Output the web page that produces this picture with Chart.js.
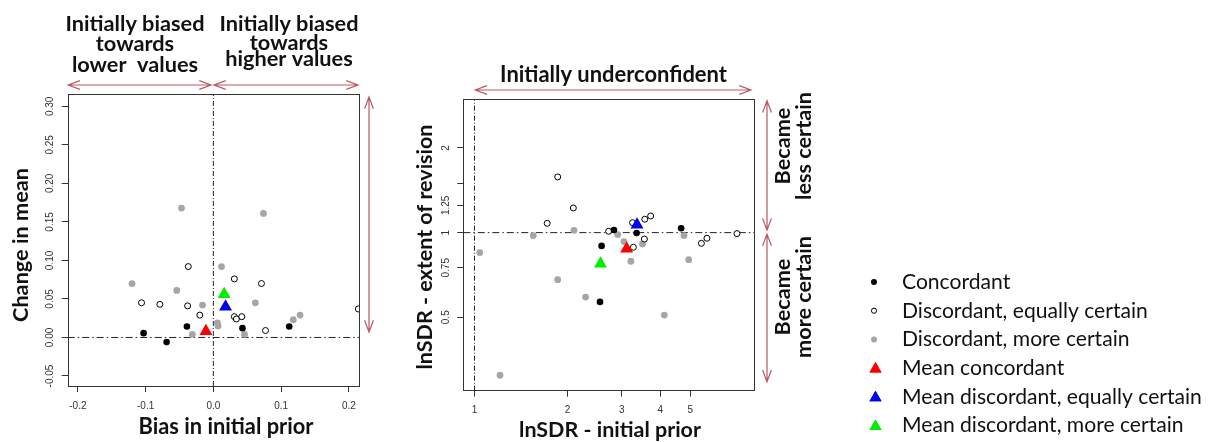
<!DOCTYPE html>
<html><head><meta charset="utf-8">
<script src="https://cdn.jsdelivr.net/npm/chart.js@4.4.1/dist/chart.umd.min.js"></script>
<style>
html,body{margin:0;padding:0;background:#fff;width:1211px;height:442px;overflow:hidden}
canvas{position:absolute;top:0}
#c1{left:0}
#c2{left:400px}
</style></head><body>
<canvas id="c1" width="400" height="442" style="width:400px;height:442px"></canvas>
<canvas id="c2" width="811" height="442" style="width:811px;height:442px"></canvas>
<script>
// ---------- Panel A: Bias in initial prior vs Change in mean ----------
const biasConcordant   = [-0.103, -0.069, -0.039, 0.043, 0.112];
const changeConcordant = [0.0056, -0.0060, 0.0142, 0.0121, 0.0142];

const biasDiscEqual   = [-0.037, -0.106, -0.079, -0.038, -0.020, 0.031, 0.071, 0.031, 0.034, 0.042, 0.077, 0.214];
const changeDiscEqual = [0.092, 0.045, 0.043, 0.041, 0.029, 0.076, 0.070, 0.027, 0.024, 0.027, 0.009, 0.037];

const biasDiscMore   = [-0.047, 0.074, -0.120, -0.054, 0.012, -0.016, 0.062, -0.031, 0.006, 0.007, 0.046, 0.118, 0.128];
const changeDiscMore = [0.168, 0.161, 0.070, 0.061, 0.092, 0.042, 0.045, 0.004, 0.019, 0.015, 0.004, 0.023, 0.029];

const biasMeans   = [-0.011, 0.018, 0.016];   // concordant, disc. equally, disc. more
const changeMeans = [0.008, 0.040, 0.056];

const biasTicks   = [-0.2, -0.1, 0.0, 0.1, 0.2];
const biasTickLabels = ["-0.2", "-0.1", "0.0", "0.1", "0.2"];
const changeTicks = [-0.05, 0, 0.05, 0.10, 0.15, 0.20, 0.25, 0.30];
const changeTickLabels = ["-0.05", "0.00", "0.05", "0.10", "0.15", "0.20", "0.25", "0.30"];
const biasRange = [-0.215, 0.215];
const changeRange = [-0.063, 0.316];
const biasRefLine = 0;
const changeRefLine = 0;

// ---------- Panel B: lnSDR initial prior vs lnSDR extent of revision ----------
const priorConcordant    = [2.83, 2.58, 3.35, 4.67, 2.55];
const revisionConcordant = [1.022, 0.897, 0.997, 1.036, 0.567];

const priorDiscEqual    = [1.86, 2.09, 1.72, 2.72, 3.25, 3.56, 3.72, 3.55, 3.27, 5.43, 5.66, 7.08];
const revisionDiscEqual = [1.578, 1.224, 1.079, 1.011, 1.085, 1.116, 1.146, 0.949, 0.887, 0.916, 0.955, 0.992];

const priorDiscMore    = [1.04, 1.55, 2.10, 1.86, 2.29, 2.91, 3.05, 3.21, 3.50, 4.77, 4.94, 4.12, 1.21];
const revisionDiscMore = [0.849, 0.976, 1.019, 0.680, 0.590, 0.984, 0.929, 0.791, 0.911, 0.976, 0.801, 0.509, 0.311];

const priorMeans    = [3.11, 3.36, 2.56];
const revisionMeans = [0.877, 1.067, 0.775];

const priorTicks = [1, 2, 3, 4, 5];
const priorTickLabels = ["1", "2", "3", "4", "5"];
const revisionTicks = [0.5, 0.75, 1, 1.25, 1.5, 2];
const revisionTickLabels = ["0.5", "0.75", "1", "1.25", "", "2"];
const priorRange = [0.92, 8.04];
const revisionRange = [0.274, 2.98];
const priorRefLine = 1;
const revisionRefLine = 1;

// ---------- Legend ----------
const seriesNames = ["Concordant", "Discordant, equally certain", "Discordant, more certain",
                     "Mean concordant", "Mean discordant, equally certain", "Mean discordant, more certain"];

// ---------- helpers ----------
const zip = (xs, ys) => xs.map((x, i) => ({x, y: ys[i]}));
const ARROW = '#b85a62';
const GRAY = '#a6a6a6';
const BOLD = 'Lato';
const MEAN_COLORS = ['#ff0000', '#0000ee', '#00ee00'];

function fitSize(ctx, text, width, weight, fam) {
  ctx.font = `${weight} 100px ${fam}`;
  return 100 * width / ctx.measureText(text).width;
}
function text(ctx, s, x, y, size, weight, fam, color, rot, align, base) {
  ctx.save();
  ctx.translate(x, y);
  if (rot) ctx.rotate(rot);
  ctx.font = `${weight} ${size}px ${fam}`;
  ctx.fillStyle = color || '#111';
  ctx.textAlign = align || 'center';
  ctx.textBaseline = base || 'alphabetic';
  ctx.fillText(s, 0, 0);
  ctx.restore();
}
function arrow(ctx, x1, y1, x2, y2) {
  const a = Math.atan2(y2 - y1, x2 - x1), L = 12.5, W = 0.36;
  ctx.save();
  ctx.strokeStyle = ARROW; ctx.lineWidth = 1.2;
  ctx.beginPath();
  ctx.moveTo(x1, y1); ctx.lineTo(x2, y2);
  [[x1, y1, a], [x2, y2, a + Math.PI]].forEach(([px, py, b]) => {
    ctx.moveTo(px + L * Math.cos(b + W), py + L * Math.sin(b + W));
    ctx.lineTo(px, py);
    ctx.lineTo(px + L * Math.cos(b - W), py + L * Math.sin(b - W));
  });
  ctx.stroke();
  ctx.restore();
}

function datasets(cx, cy, ex, ey, mx, my, mnx, mny, rx, ry, xr, yr) {
  return [
    {label: seriesNames[3], data: [{x: mnx[0], y: mny[0]}], pointStyle: 'triangle', pointRadius: 7.5, backgroundColor: MEAN_COLORS[0], borderColor: MEAN_COLORS[0], borderWidth: 0, order: 0},
    {label: seriesNames[4], data: [{x: mnx[1], y: mny[1]}], pointStyle: 'triangle', pointRadius: 7.5, backgroundColor: MEAN_COLORS[1], borderColor: MEAN_COLORS[1], borderWidth: 0, order: 0},
    {label: seriesNames[5], data: [{x: mnx[2], y: mny[2]}], pointStyle: 'triangle', pointRadius: 7.5, backgroundColor: MEAN_COLORS[2], borderColor: MEAN_COLORS[2], borderWidth: 0, order: 0},
    {label: seriesNames[0], data: zip(cx, cy), pointStyle: 'circle', pointRadius: 3.3, backgroundColor: '#000', borderColor: '#000', borderWidth: 0, order: 1},
    {label: seriesNames[1], data: zip(ex, ey), pointStyle: 'circle', pointRadius: 3, backgroundColor: '#fff', borderColor: '#000', borderWidth: 1, order: 2, clip: 0},
    {label: seriesNames[2], data: zip(mx, my), pointStyle: 'circle', pointRadius: 3.4, backgroundColor: GRAY, borderColor: GRAY, borderWidth: 0, order: 3},
    {type: 'line', label: 'ref-v', data: [{x: rx, y: yr[0]}, {x: rx, y: yr[1]}], borderColor: '#222', borderWidth: 1, borderDash: [5, 2, 1, 2], pointRadius: 0, showLine: true, order: 4},
    {type: 'line', label: 'ref-h', data: [{x: xr[0], y: ry}, {x: xr[1], y: ry}], borderColor: '#222', borderWidth: 1, borderDash: [7, 3, 1.5, 3], pointRadius: 0, showLine: true, order: 4},
  ];
}

function axisOpts(type, range, ticks, pos) {
  return {
    type, position: pos, min: range[0], max: range[1],
    afterBuildTicks: s => { s.ticks = ticks.map(v => ({value: v})); },
    afterFit: s => { if (pos === 'left') s.width = 0; else s.height = 0; },
    ticks: {display: false},
    grid: {display: true, drawOnChartArea: false, drawTicks: true, tickLength: 6, color: '#333', lineWidth: 1},
    border: {display: false},
    title: {display: false}
  };
}

function framePlugin(xt, xl, yt, yl) {
  return {
    id: 'frame',
    afterDraw(chart) {
      const ctx = chart.ctx, ca = chart.chartArea;
      const xs = chart.scales.x, ys = chart.scales.y;
      ctx.save();
      ctx.strokeStyle = '#333'; ctx.lineWidth = 1;
      ctx.strokeRect(Math.round(ca.left) + 0.5, Math.round(ca.top) + 0.5, Math.round(ca.right - ca.left), Math.round(ca.bottom - ca.top));
      ctx.restore();
      xt.forEach((v, i) => text(ctx, xl[i], xs.getPixelForValue(v), ca.bottom + 20, 10, 'normal', 'Liberation Sans', '#333', 0, 'center', 'middle'));
      yt.forEach((v, i) => { if (yl[i]) text(ctx, yl[i], ca.left - 17.5, ys.getPixelForValue(v), 10, 'normal', 'Liberation Sans', '#333', -Math.PI / 2, 'center', 'middle'); });
    }
  };
}

const annotA = {
  id: 'annotA',
  afterDraw(chart) {
    const ctx = chart.ctx, ca = chart.chartArea;
    const s = fitSize(ctx, 'Initially biased', 139, 'bold', BOLD);
    const L = [['Initially biased', 31], ['towards', 51], ['lower  values', 71.5]];
    const R = [['Initially biased', 31], ['towards', 49.5], ['higher values', 66]];
    L.forEach(([t, y]) => text(ctx, t, 135, y, s, 'bold', BOLD));
    R.forEach(([t, y]) => text(ctx, t, 289, y, s, 'bold', BOLD));
    arrow(ctx, ca.left + 0.5, 85, 211, 85);
    arrow(ctx, 214, 85, ca.right - 1, 85);
    arrow(ctx, ca.right + 10, 97, ca.right + 10, 332);
    const st = fitSize(ctx, 'Change in mean', 154, 'bold', BOLD);
    text(ctx, 'Change in mean', 28, 245, st, 'bold', BOLD, '#111', -Math.PI / 2, 'center', 'alphabetic');
    const sx = fitSize(ctx, 'Bias in initial prior', 175, 'bold', BOLD);
    text(ctx, 'Bias in initial prior', 226, 434, sx, 'bold', BOLD);
  }
};

const annotB = {
  id: 'annotB',
  afterDraw(chart) {
    const ctx = chart.ctx, ca = chart.chartArea;
    const s = fitSize(ctx, 'Initially underconfident', 227, 'bold', BOLD);
    text(ctx, 'Initially underconfident', 213.5, 82, s, 'bold', BOLD);
    arrow(ctx, ca.left + 12, 90, ca.right - 3, 90);
    const x0 = ca.right + 13;
    const yMid = chart.scales.y.getPixelForValue(revisionRefLine);
    arrow(ctx, x0, ca.top + 1.5, x0, yMid - 2.5);
    arrow(ctx, x0, yMid + 1.5, x0, ca.bottom - 9);
    const sb = fitSize(ctx, 'less certain', 108, 'bold', BOLD);
    text(ctx, 'Became', 390, 146, sb, 'bold', BOLD, '#111', -Math.PI / 2, 'center', 'alphabetic');
    text(ctx, 'less certain', 411, 146, sb, 'bold', BOLD, '#111', -Math.PI / 2, 'center', 'alphabetic');
    text(ctx, 'Became', 390, 297, sb, 'bold', BOLD, '#111', -Math.PI / 2, 'center', 'alphabetic');
    text(ctx, 'more certain', 411, 297, sb, 'bold', BOLD, '#111', -Math.PI / 2, 'center', 'alphabetic');
    const st = fitSize(ctx, 'lnSDR - extent of revision', 245, 'bold', BOLD);
    text(ctx, 'lnSDR - extent of revision', 32, 247, st, 'bold', BOLD, '#111', -Math.PI / 2, 'center', 'alphabetic');
    const sx = fitSize(ctx, 'lnSDR - initial prior', 182, 'bold', BOLD);
    text(ctx, 'lnSDR - initial prior', 210, 437, sx, 'bold', BOLD);

    // legend, built from the dataset styles
    const order = [3, 4, 5, 0, 1, 2];
    const sl = fitSize(ctx, seriesNames[4], 300, 'normal', BOLD);
    order.forEach((di, i) => {
      const ds = chart.data.datasets[di];
      const y = 282 + i * 28.7;
      const mx = 474;
      ctx.save();
      ctx.fillStyle = ds.backgroundColor; ctx.strokeStyle = ds.borderColor; ctx.lineWidth = ds.borderWidth || 0;
      if (ds.pointStyle === 'triangle') {
        Chart.helpers.drawPoint(ctx, {pointStyle: 'triangle', radius: 7, rotation: 0, borderWidth: 0}, mx + 1.5, y + 1);
        ctx.fill();
      } else {
        ctx.beginPath(); ctx.arc(mx, y, ds.label === seriesNames[1] ? 2.6 : 3, 0, Math.PI * 2);
        ctx.fill(); if (ds.borderWidth) ctx.stroke();
      }
      ctx.restore();
      text(ctx, ds.label, 502, y, sl, 'normal', BOLD, '#111', 0, 'left', 'middle');
    });
  }
};

Chart.defaults.font.family = 'Liberation Sans';

new Chart(document.getElementById('c1'), {
  type: 'scatter',
  data: {datasets: datasets(biasConcordant, changeConcordant, biasDiscEqual, changeDiscEqual, biasDiscMore, changeDiscMore, biasMeans, changeMeans, biasRefLine, changeRefLine, biasRange, changeRange)},
  options: {
    responsive: false, animation: false, devicePixelRatio: 1,
    layout: {padding: {left: 67.7, right: 41, top: 94, bottom: 56}},
    plugins: {legend: {display: false}, tooltip: {enabled: false}},
    scales: {x: axisOpts('linear', biasRange, biasTicks, 'bottom'), y: axisOpts('linear', changeRange, changeTicks, 'left')}
  },
  plugins: [framePlugin(biasTicks, biasTickLabels, changeTicks, changeTickLabels), annotA]
});

new Chart(document.getElementById('c2'), {
  type: 'scatter',
  data: {datasets: datasets(priorConcordant, revisionConcordant, priorDiscEqual, revisionDiscEqual, priorDiscMore, revisionDiscMore, priorMeans, revisionMeans, priorRefLine, revisionRefLine, priorRange, revisionRange)},
  options: {
    responsive: false, animation: false, devicePixelRatio: 1,
    layout: {padding: {left: 63.3, right: 457, top: 99.3, bottom: 51.3}},
    plugins: {legend: {display: false}, tooltip: {enabled: false}},
    scales: {x: axisOpts('logarithmic', priorRange, priorTicks, 'bottom'), y: axisOpts('logarithmic', revisionRange, revisionTicks, 'left')}
  },
  plugins: [framePlugin(priorTicks, priorTickLabels, revisionTicks, revisionTickLabels), annotB]
});
</script>
</body></html>
